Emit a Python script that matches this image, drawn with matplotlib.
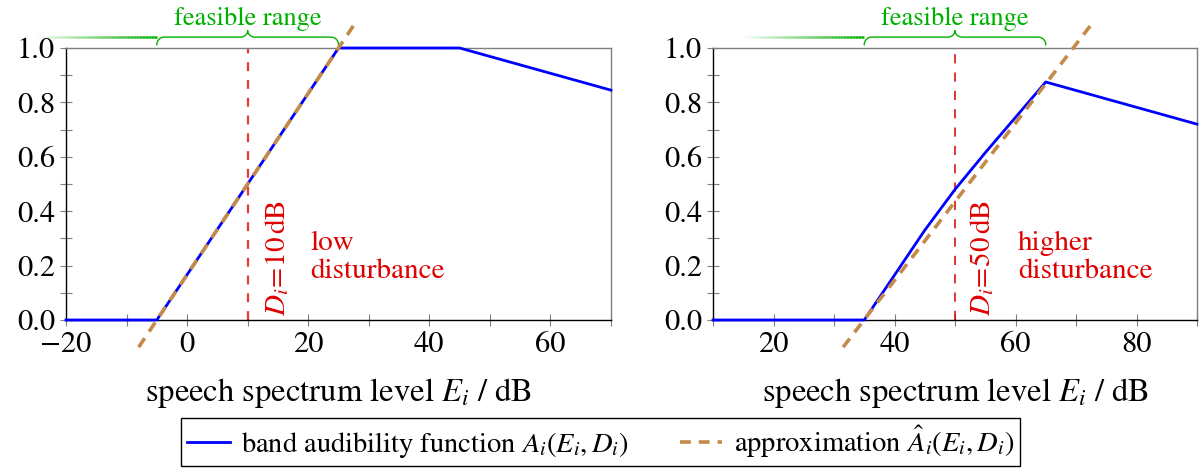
import numpy as np
import matplotlib
matplotlib.use("Agg")
import matplotlib.pyplot as plt
from matplotlib.ticker import MultipleLocator, FormatStrFormatter
from matplotlib.collections import LineCollection
import matplotlib.transforms as mtransforms

# Times-like look; STIX ships with matplotlib
plt.rcParams['font.family'] = ['STIXGeneral', 'DejaVu Serif']
plt.rcParams['mathtext.fontset'] = 'stix'

# --- data --- #
# left panel: D_i = 10 dB (low disturbance)
E_left = [-20, -5, 25, 45, 70]
A_left = [0.0, 0.0, 1.0, 1.0, 0.845]
approx_left_E = [-8, 28]
approx_left_A = [-0.1, 1.1]
D_left = 10
feas_left = [-5, 25]

# right panel: D_i = 50 dB (higher disturbance)
E_right = [10, 35, 40, 45, 50, 55, 60, 65, 90]
A_right = [0.0, 0.0, 0.165, 0.33, 0.48, 0.615, 0.745, 0.875, 0.72]
approx_right_E = [31.5, 73]
approx_right_A = [-0.1, 1.1]
D_right = 50
feas_right = [35, 65]

xlim_left = (-20, 70)
xlim_right = (10, 90)

blue = '#0000ff'
brown = '#c48a4a'
green = '#00b000'
grey = '#7f7f7f'
red = '#e00000'


def brace(ax, x0, x1, color, fade=20):
    # curly brace above the axes, x in data, y in axes fraction
    tr = mtransforms.blended_transform_factory(ax.transData, ax.transAxes)
    xm = 0.5 * (x0 + x1)
    r = 1.2
    y_end, y_line, y_tip = 1.012, 1.040, 1.064
    t = np.linspace(0, np.pi / 2, 12)
    xs, ys = [], []
    xs += list(x0 + r * (1 - np.cos(t))); ys += list(y_end + (y_line - y_end) * np.sin(t))
    xs += list(xm - r + r * np.sin(t)); ys += list(y_line + (y_tip - y_line) * (1 - np.cos(t)))
    xs += list(xm + r - r * np.cos(t)); ys += list(y_tip - (y_tip - y_line) * np.sin(t))
    xs += list(x1 - r + r * np.sin(t)); ys += list(y_line - (y_line - y_end) * (1 - np.cos(t)))
    ax.plot(xs, ys, color=color, lw=1.0, transform=tr, clip_on=False)
    # fading line to the left
    n = 40
    fx = np.linspace(x0 - fade, x0, n + 1)
    segs = [[(fx[k], y_line), (fx[k + 1], y_line)] for k in range(n)]
    cols = [(0.0, 0.69, 0.0, (k + 1) / n) for k in range(n)]
    lc = LineCollection(segs, colors=cols, linewidths=1.8, transform=tr, clip_on=False)
    ax.add_collection(lc)
    ax.text(xm, 1.062, 'feasible range', color=color, fontsize=19,
            ha='center', va='bottom', transform=tr)


def style(ax, xlim):
    ax.set_xlim(*xlim)
    ax.set_ylim(0, 1)
    ax.xaxis.set_major_locator(MultipleLocator(20))
    ax.xaxis.set_minor_locator(MultipleLocator(10))
    ax.yaxis.set_major_locator(MultipleLocator(0.2))
    ax.yaxis.set_minor_locator(MultipleLocator(0.1))
    ax.yaxis.set_major_formatter(FormatStrFormatter('%.1f'))
    ax.tick_params(which='both', direction='inout', length=8, width=0.8,
                   color=grey, labelsize=22, pad=4)
    ax.spines['top'].set_color(grey)
    ax.spines['right'].set_color(grey)
    ax.spines['left'].set_color('black')
    ax.spines['bottom'].set_color('black')
    for s in ax.spines.values():
        s.set_linewidth(1.0)
    ax.set_xlabel(r'speech spectrum level $E_i$ / dB', fontsize=23.5, labelpad=12)


fig = plt.figure(figsize=(12.01, 4.73), dpi=100)
ax1 = fig.add_axes([66 / 1201, 153 / 473, 545 / 1201, 272 / 473])
ax2 = fig.add_axes([713 / 1201, 153 / 473, 484 / 1201, 272 / 473])

# left panel
l1, = ax1.plot(E_left, A_left, color=blue, lw=2, clip_on=False, zorder=3)
l2, = ax1.plot(approx_left_E, approx_left_A, color=brown, lw=2.6, ls=(0, (3, 2.2)),
               clip_on=False, zorder=4)
ax1.plot([D_left, D_left], [0, 1], color='#e83a3a', lw=1.6, ls=(0, (4, 4)), zorder=2)
ax1.text(D_left + 2.5, 0.015, r'$D_i\!=\!10\,\mathrm{dB}$', color=red, fontsize=21,
         rotation=90, ha='left', va='bottom')
ax1.text(20.3, 0.23, 'low\ndisturbance', color=red, fontsize=21,
         ha='left', va='center', linespacing=1.15)
style(ax1, xlim_left)
brace(ax1, feas_left[0], feas_left[1], green)

# right panel
ax2.plot(E_right, A_right, color=blue, lw=2, clip_on=False, zorder=3)
ax2.plot(approx_right_E, approx_right_A, color=brown, lw=2.6, ls=(0, (3, 2.2)),
         clip_on=False, zorder=4)
ax2.plot([D_right, D_right], [0, 1], color='#d40000', lw=1.1, ls=(0, (6, 6)), zorder=2)
ax2.text(D_right + 2.1, 0.015, r'$D_i\!=\!50\,\mathrm{dB}$', color=red, fontsize=21,
         rotation=90, ha='left', va='bottom')
ax2.text(60.4, 0.23, 'higher\ndisturbance', color=red, fontsize=21,
         ha='left', va='center', linespacing=1.15)
style(ax2, xlim_right)
brace(ax2, feas_right[0], feas_right[1], green)

leg = fig.legend([l1, l2],
                 [r'band audibility function $A_i(E_i,D_i)$',
                  r'approximation $\hat{A}_i(E_i,D_i)$'],
                 loc='lower center', bbox_to_anchor=(0.5, 0.0), ncol=2,
                 fontsize=20.5, frameon=True, fancybox=False, framealpha=1,
                 edgecolor='black', handlelength=1.5, columnspacing=1.8,
                 borderpad=0.2, borderaxespad=0.25, handletextpad=0.4)
leg.get_frame().set_linewidth(1.0)

fig.savefig('out.png', dpi=100)
